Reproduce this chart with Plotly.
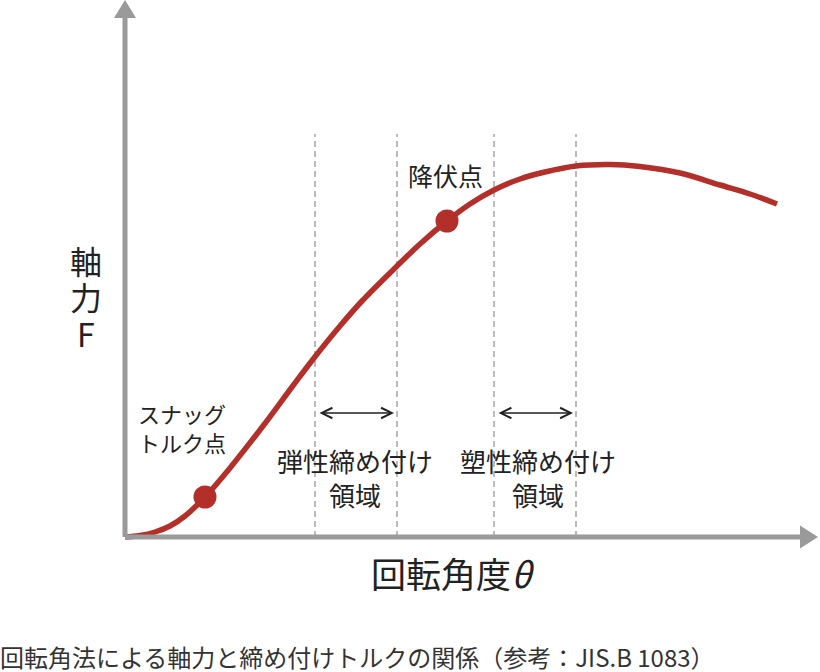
import plotly.graph_objects as go

# Curve: rotation angle (theta) vs axial force (F), in arbitrary units
theta = [0, 15, 30, 45, 60, 80, 105, 138, 167, 189, 215, 237, 272, 295, 322,
         345, 369, 395, 420, 451, 485, 515, 555, 595, 625, 652]
force = [0, 1.5, 5, 11, 21, 40, 69, 111, 150, 179, 211, 236, 271, 293, 316,
         333, 347, 358, 365, 371, 372.5, 370.5, 364, 352, 343, 333]

# Key points
point_names = ["スナッグトルク点", "降伏点"]
point_theta = [80, 322]
point_force = [40, 316]

# Region boundaries (dashed lines) and region labels
boundaries = [190, 272, 369, 451]
dash_top = 403
regions = ["弾性締め付け<br>領域", "塑性締め付け<br>領域"]
region_start = [190, 369]
region_end = [272, 451]

axis_x_label = "回転角度<i>θ</i>"
axis_y_chars = ["軸", "力", "F"]
caption = "回転角法による軸力と締め付けトルクの関係（参考：JIS.B 1083）"

RED = "#b3302a"
GREY = "#9a9a9a"
TXT = "#222222"
FONT = "Noto Sans CJK JP"

fig = go.Figure()

# dashed boundary lines
for b in boundaries:
    fig.add_trace(go.Scatter(x=[b, b], y=[0, dash_top], mode="lines",
                             line=dict(color="#ababab", width=1.6, dash="6px,4px"),
                             hoverinfo="skip", showlegend=False))

fig.add_trace(go.Scatter(x=theta, y=force, mode="lines",
                         line=dict(color=RED, width=5.5, shape="spline", smoothing=1.0),
                         showlegend=False))
fig.add_trace(go.Scatter(x=point_theta, y=point_force, mode="markers",
                         marker=dict(color=RED, size=23), text=point_names,
                         showlegend=False))

# axes with arrows
x_tip, y_tip = 693, 537
fig.add_shape(type="line", x0=0, y0=0, x1=x_tip - 16, y1=0, line=dict(color=GREY, width=5))
fig.add_shape(type="line", x0=0, y0=0, x1=0, y1=y_tip - 16, line=dict(color=GREY, width=5))
fig.add_shape(type="path",
              path=f"M {x_tip-18},-11.5 L {x_tip},0 L {x_tip-18},11.5 Z",
              fillcolor=GREY, line=dict(width=0))
fig.add_shape(type="path",
              path=f"M -11,{y_tip-18} L 0,{y_tip} L 11,{y_tip-18} Z",
              fillcolor=GREY, line=dict(width=0))

# double arrows over regions
label_shift = [-1, 3]
for i, (s, e) in enumerate(zip(region_start, region_end)):
    fig.add_annotation(x=e - 3, y=124, ax=s + 3, ay=124, axref="x", ayref="y",
                       xref="x", yref="y", text="", showarrow=True,
                       arrowside="end+start", arrowhead=5, arrowsize=1.3,
                       arrowwidth=1.6, arrowcolor=TXT)
    fig.add_annotation(x=(s + e) / 2 + label_shift[i], y=60, text=regions[i],
                       showarrow=False, font=dict(family=FONT, size=26, color=TXT))

fig.add_annotation(x=57, y=110, text="スナッグ<br>トルク点", showarrow=False,
                   font=dict(family=FONT, size=22, color=TXT))
fig.add_annotation(x=320, y=362, text="降伏点", showarrow=False,
                   font=dict(family=FONT, size=25, color=TXT))

fig.add_annotation(x=328, y=-35, text=axis_x_label, showarrow=False,
                   font=dict(family=FONT, size=35, color=TXT))
for ch, yy in zip(axis_y_chars, [277, 241, 204]):
    fig.add_annotation(x=-39, y=yy, text=ch, showarrow=False,
                       font=dict(family=FONT, size=32, color=TXT))

fig.add_annotation(x=0, xref="paper", xanchor="left", xshift=-2,
                   y=-119, yref="y", text=caption, showarrow=False,
                   font=dict(family=FONT, size=24, color="#333333"))

fig.update_layout(
    width=820, height=672, margin=dict(l=0, r=0, t=0, b=0),
    paper_bgcolor="white", plot_bgcolor="white",
    xaxis=dict(range=[-125, 695], visible=False, fixedrange=True),
    yaxis=dict(range=[-135, 537], visible=False, fixedrange=True),
    showlegend=False,
)

fig.write_html("out.html", config={"displayModeBar": False},
               post_script="document.body.style.margin='0';document.body.style.overflow='hidden';")
